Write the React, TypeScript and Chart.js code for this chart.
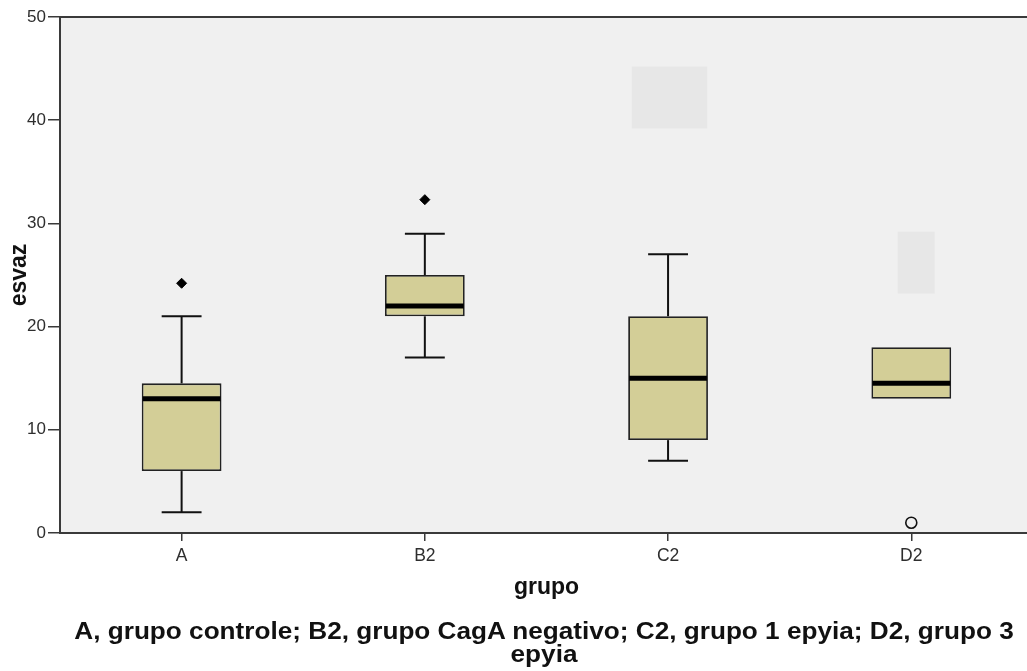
import React, { useEffect, useRef } from 'react';
import { Chart, registerables } from 'chart.js';

Chart.register(...registerables);

// ---- data ----
const categories = ['A', 'B2', 'C2', 'D2'];
const q1 = [6, 21, 9, 13];
const q3 = [14.5, 25, 21, 18];
const medians = [13, 22, 15, 14.5];
const whiskerLow = [2, 17, 7, 13];
const whiskerHigh = [21, 29, 27, 18];
const extremes = [24.2, 32.3, null, null];
const outliers = [null, null, null, 1];
const yTicks = [0, 10, 20, 30, 40, 50];
// faint masked label patches (value ranges)
const maskLow = [null, null, 39.2, 23.2];
const maskHigh = [null, null, 45.2, 29.2];
const xTitle = 'grupo';
const yTitle = 'esvaz';
const captionLines = [
  'A, grupo controle; B2, grupo CagA negativo; C2, grupo 1 epyia; D2, grupo 3',
  'epyia',
];

const FONT = "'Liberation Sans', Arial, sans-serif";
const AXIS = '#3a3a3a';

const boxPlugin = {
  id: 'boxPlot',
  beforeDraw(chart: any) {
    const { ctx, chartArea: a, scales } = chart;
    const x = scales.x;
    const y = scales.y;
    ctx.save();
    ctx.fillStyle = '#f0f0f0';
    ctx.fillRect(a.left, a.top, a.right - a.left, a.bottom - a.top);
    // faint patches
    ctx.fillStyle = '#e7e7e7';
    const step = x.getPixelForValue(1) - x.getPixelForValue(0);
    const maskW = [0, 0, 0.31, 0.152];
    const maskShift = [0, 0, 0.006, 0.02];
    categories.forEach((_, i) => {
      if (maskLow[i] == null || maskHigh[i] == null) return;
      const cx = x.getPixelForValue(i) + maskShift[i] * step;
      const w = maskW[i] * step;
      const yt = y.getPixelForValue(maskHigh[i]);
      const yb = y.getPixelForValue(maskLow[i]);
      ctx.fillRect(cx - w / 2, yt, w, yb - yt);
    });
    ctx.restore();
  },
  beforeDatasetsDraw(chart: any) {
    const { ctx, scales } = chart;
    const y = scales.y;
    const meta = chart.getDatasetMeta(0);
    ctx.save();
    ctx.strokeStyle = '#111';
    ctx.lineWidth = 2;
    categories.forEach((_, i) => {
      const bar = meta.data[i];
      if (!bar) return;
      const cx = bar.x;
      const half = bar.width / 4;
      const pairs = [
        [q3[i], whiskerHigh[i]],
        [q1[i], whiskerLow[i]],
      ];
      pairs.forEach(([from, to]) => {
        if (from === to) return;
        const y0 = y.getPixelForValue(from);
        const y1 = y.getPixelForValue(to);
        ctx.beginPath();
        ctx.moveTo(cx, y0);
        ctx.lineTo(cx, y1);
        ctx.stroke();
        ctx.beginPath();
        ctx.moveTo(cx - half, y1);
        ctx.lineTo(cx + half, y1);
        ctx.stroke();
      });
    });
    ctx.restore();
  },
  afterDatasetsDraw(chart: any) {
    const { ctx, chartArea: a, scales } = chart;
    const y = scales.y;
    const meta = chart.getDatasetMeta(0);
    ctx.save();
    ctx.strokeStyle = '#000';
    ctx.lineWidth = 5;
    categories.forEach((_, i) => {
      const bar = meta.data[i];
      if (!bar) return;
      const ym = y.getPixelForValue(medians[i]);
      ctx.beginPath();
      ctx.moveTo(bar.x - bar.width / 2 + 1, ym);
      ctx.lineTo(bar.x + bar.width / 2 - 1, ym);
      ctx.stroke();
    });
    // top frame line
    ctx.strokeStyle = AXIS;
    ctx.lineWidth = 2;
    ctx.beginPath();
    ctx.moveTo(a.left, a.top);
    ctx.lineTo(a.right, a.top);
    ctx.stroke();
    ctx.restore();
  },
};

export default function App() {
  const ref = useRef<HTMLCanvasElement>(null);

  useEffect(() => {
    if (!ref.current) return;
    const chart = new Chart(ref.current, {
      type: 'bar',
      data: {
        labels: categories,
        datasets: [
          {
            type: 'bar',
            data: q1.map((v, i) => [v, q3[i]]) as any,
            backgroundColor: '#d3ce97',
            borderColor: '#222',
            borderWidth: 1.8,
            borderSkipped: false,
            barPercentage: 0.328,
            categoryPercentage: 1,
          },
          {
            type: 'line',
            data: extremes as any,
            showLine: false,
            pointStyle: 'rectRot',
            pointRadius: 5,
            backgroundColor: '#000',
            borderColor: '#000',
            borderWidth: 1,
          } as any,
          {
            type: 'line',
            data: outliers as any,
            showLine: false,
            pointStyle: 'circle',
            pointRadius: 5.5,
            backgroundColor: '#f0f0f0',
            borderColor: '#111',
            borderWidth: 1.6,
          } as any,
        ],
      },
      options: {
        responsive: false,
        animation: false,
        layout: { padding: { top: 17, left: 0, right: 3, bottom: 0 } },
        plugins: {
          legend: { display: false },
          tooltip: { enabled: false },
        },
        scales: {
          x: {
            type: 'category',
            offset: true,
            grid: {
              offset: false,
              drawOnChartArea: false,
              drawTicks: true,
              tickLength: 8,
              color: AXIS,
              lineWidth: 1.5,
            },
            border: { display: true, color: AXIS, width: 2 },
            ticks: { font: { size: 17.5, family: FONT }, color: '#2e2e2e', padding: 5 },
            title: {
              display: true,
              text: xTitle,
              color: '#111',
              font: { size: 23, weight: 'bold', family: FONT },
              padding: { top: 4, bottom: 70 },
            },
            afterFit: (s: any) => {
              s.height = 138;
            },
          },
          y: {
            min: 0,
            max: 50,
            afterBuildTicks: (s: any) => {
              s.ticks = yTicks.map((v) => ({ value: v }));
            },
            grid: {
              drawOnChartArea: false,
              drawTicks: true,
              tickLength: 12,
              color: AXIS,
              lineWidth: 1.5,
            },
            border: { display: true, color: AXIS, width: 2 },
            ticks: { font: { size: 17, family: FONT }, color: '#2e2e2e', padding: 2 },
            title: {
              display: true,
              text: yTitle,
              color: '#111',
              font: { size: 23, weight: 'bold', family: FONT },
              padding: { top: 6, bottom: 0 },
            },
            afterFit: (s: any) => {
              s.width = 60;
            },
          },
        },
      },
      plugins: [boxPlugin],
    });
    return () => chart.destroy();
  }, []);

  return (
    <div
      style={{
        position: 'fixed',
        left: 0,
        top: 0,
        width: 1027,
        height: 671,
        overflow: 'hidden',
        background: '#fff',
      }}
    >
      <canvas ref={ref} width={1040} height={671} style={{ display: 'block' }} />
      <div
        style={{
          position: 'absolute',
          left: 55,
          width: 978,
          top: 619,
          textAlign: 'center',
          font: `bold 24px ${FONT}`,
          lineHeight: '23px',
          color: '#111',
          whiteSpace: 'nowrap',
          transform: 'scaleX(1.09)',
          transformOrigin: '489px 0',
        }}
      >
        {captionLines[0]}
        <br />
        {captionLines[1]}
      </div>
    </div>
  );
}
